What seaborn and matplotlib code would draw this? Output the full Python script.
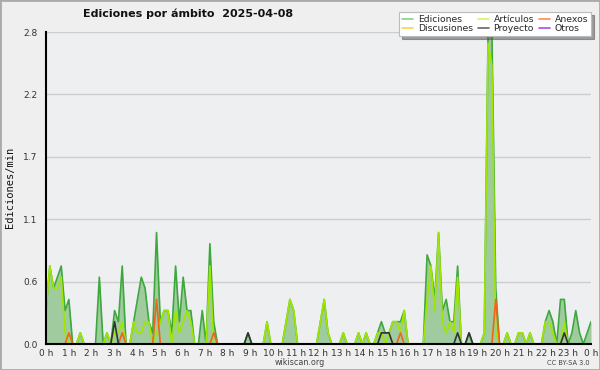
import numpy as np
import pandas as pd
import matplotlib
matplotlib.use("Agg")
import matplotlib.pyplot as plt
import seaborn as sns
from matplotlib.lines import Line2D
from matplotlib.patches import Rectangle

# ---------------- data (edits per minute, 10-minute bins, 24 rows of 6) -------------
ediciones = [
    0.3, 0.7, 0.5, 0.6, 0.7, 0.3,   # 0 h
    0.4, 0.0, 0.0, 0.1, 0.0, 0.0,   # 1 h
    0.0, 0.0, 0.6, 0.0, 0.1, 0.0,   # 2 h
    0.3, 0.2, 0.7, 0.0, 0.0, 0.2,   # 3 h
    0.4, 0.6, 0.5, 0.2, 0.1, 1.0,   # 4 h
    0.2, 0.3, 0.3, 0.1, 0.7, 0.2,   # 5 h
    0.6, 0.3, 0.3, 0.0, 0.0, 0.3,   # 6 h
    0.0, 0.9, 0.2, 0.0, 0.0, 0.0,   # 7 h
    0.0, 0.0, 0.0, 0.0, 0.0, 0.1,   # 8 h
    0.0, 0.0, 0.0, 0.0, 0.2, 0.0,   # 9 h
    0.0, 0.0, 0.0, 0.2, 0.4, 0.3,   # 10 h
    0.0, 0.0, 0.0, 0.0, 0.0, 0.0,   # 11 h
    0.2, 0.4, 0.1, 0.0, 0.0, 0.0,   # 12 h
    0.1, 0.0, 0.0, 0.0, 0.1, 0.0,   # 13 h
    0.1, 0.0, 0.0, 0.1, 0.2, 0.1,   # 14 h
    0.1, 0.2, 0.2, 0.2, 0.3, 0.0,   # 15 h
    0.0, 0.0, 0.0, 0.0, 0.8, 0.7,   # 16 h
    0.4, 1.0, 0.3, 0.4, 0.2, 0.2,   # 17 h
    0.7, 0.0, 0.0, 0.1, 0.0, 0.0,   # 18 h
    0.0, 0.1, 2.8, 2.8, 0.5, 0.0,   # 19 h
    0.0, 0.1, 0.0, 0.0, 0.1, 0.1,   # 20 h
    0.0, 0.1, 0.0, 0.0, 0.0, 0.2,   # 21 h
    0.3, 0.2, 0.0, 0.4, 0.4, 0.0,   # 22 h
    0.1, 0.3, 0.1, 0.0, 0.1, 0.2,   # 23 h
]
articulos = [
    0.3, 0.7, 0.5, 0.5, 0.6, 0.1,
    0.0, 0.0, 0.0, 0.1, 0.0, 0.0,
    0.0, 0.0, 0.0, 0.0, 0.1, 0.0,
    0.1, 0.1, 0.2, 0.0, 0.0, 0.2,
    0.1, 0.1, 0.2, 0.2, 0.0, 0.1,
    0.2, 0.3, 0.3, 0.0, 0.3, 0.1,
    0.2, 0.3, 0.2, 0.0, 0.0, 0.0,
    0.0, 0.7, 0.0, 0.0, 0.0, 0.0,
    0.0, 0.0, 0.0, 0.0, 0.0, 0.0,
    0.0, 0.0, 0.0, 0.0, 0.2, 0.0,
    0.0, 0.0, 0.0, 0.2, 0.4, 0.3,
    0.0, 0.0, 0.0, 0.0, 0.0, 0.0,
    0.2, 0.4, 0.1, 0.0, 0.0, 0.0,
    0.1, 0.0, 0.0, 0.0, 0.1, 0.0,
    0.1, 0.0, 0.0, 0.1, 0.1, 0.0,
    0.1, 0.2, 0.2, 0.1, 0.3, 0.0,
    0.0, 0.0, 0.0, 0.0, 0.4, 0.7,
    0.3, 1.0, 0.2, 0.1, 0.2, 0.1,
    0.6, 0.0, 0.0, 0.0, 0.0, 0.0,
    0.0, 0.1, 2.7, 2.5, 0.1, 0.0,
    0.0, 0.1, 0.0, 0.0, 0.1, 0.1,
    0.0, 0.1, 0.0, 0.0, 0.0, 0.2,
    0.2, 0.1, 0.0, 0.0, 0.2, 0.0,
    0.0, 0.0, 0.0, 0.0, 0.0, 0.0,
]
anexos = [
    0.0, 0.0, 0.0, 0.0, 0.0, 0.0,
    0.1, 0.0, 0.0, 0.0, 0.0, 0.0,
    0.0, 0.0, 0.0, 0.0, 0.0, 0.0,
    0.0, 0.0, 0.1, 0.0, 0.0, 0.0,
    0.0, 0.0, 0.0, 0.0, 0.0, 0.4,
    0.0, 0.0, 0.0, 0.0, 0.0, 0.0,
    0.0, 0.0, 0.0, 0.0, 0.0, 0.0,
    0.0, 0.0, 0.1, 0.0, 0.0, 0.0,
    0.0, 0.0, 0.0, 0.0, 0.0, 0.0,
    0.0, 0.0, 0.0, 0.0, 0.0, 0.0,
    0.0, 0.0, 0.0, 0.0, 0.0, 0.0,
    0.0, 0.0, 0.0, 0.0, 0.0, 0.0,
    0.0, 0.0, 0.0, 0.0, 0.0, 0.0,
    0.0, 0.0, 0.0, 0.0, 0.0, 0.0,
    0.0, 0.0, 0.0, 0.0, 0.0, 0.0,
    0.0, 0.0, 0.0, 0.1, 0.0, 0.0,
    0.0, 0.0, 0.0, 0.0, 0.0, 0.0,
    0.0, 0.0, 0.0, 0.0, 0.0, 0.0,
    0.0, 0.0, 0.0, 0.0, 0.0, 0.0,
    0.0, 0.0, 0.0, 0.0, 0.4, 0.0,
    0.0, 0.0, 0.0, 0.0, 0.0, 0.0,
    0.0, 0.0, 0.0, 0.0, 0.0, 0.0,
    0.0, 0.0, 0.0, 0.0, 0.0, 0.0,
    0.0, 0.0, 0.0, 0.0, 0.0, 0.0,
]
proyecto = [
    0.0, 0.0, 0.0, 0.0, 0.0, 0.0,
    0.0, 0.0, 0.0, 0.0, 0.0, 0.0,
    0.0, 0.0, 0.0, 0.0, 0.0, 0.0,
    0.2, 0.0, 0.0, 0.0, 0.0, 0.0,
    0.0, 0.0, 0.0, 0.0, 0.0, 0.0,
    0.0, 0.0, 0.0, 0.0, 0.0, 0.0,
    0.0, 0.0, 0.0, 0.0, 0.0, 0.0,
    0.0, 0.0, 0.0, 0.0, 0.0, 0.0,
    0.0, 0.0, 0.0, 0.0, 0.0, 0.1,
    0.0, 0.0, 0.0, 0.0, 0.0, 0.0,
    0.0, 0.0, 0.0, 0.0, 0.0, 0.0,
    0.0, 0.0, 0.0, 0.0, 0.0, 0.0,
    0.0, 0.0, 0.0, 0.0, 0.0, 0.0,
    0.0, 0.0, 0.0, 0.0, 0.0, 0.0,
    0.0, 0.0, 0.0, 0.0, 0.1, 0.1,
    0.1, 0.0, 0.0, 0.0, 0.0, 0.0,
    0.0, 0.0, 0.0, 0.0, 0.0, 0.0,
    0.0, 0.0, 0.0, 0.0, 0.0, 0.0,
    0.1, 0.0, 0.0, 0.1, 0.0, 0.0,
    0.0, 0.0, 0.0, 0.0, 0.0, 0.0,
    0.0, 0.0, 0.0, 0.0, 0.0, 0.0,
    0.0, 0.0, 0.0, 0.0, 0.0, 0.0,
    0.0, 0.0, 0.0, 0.0, 0.1, 0.0,
    0.0, 0.0, 0.0, 0.0, 0.0, 0.0,
]
discusiones = [0.0] * len(ediciones)   # no edits visible in this namespace
otros = [0.0] * len(ediciones)         # no edits visible in this namespace

series_names = ["Ediciones", "Discusiones", "Artículos", "Proyecto", "Anexos", "Otros"]
line_colors = {"Ediciones": "#3DA83D", "Artículos": "#A0E600", "Discusiones": "#FFC933",
               "Otros": "#9A44E0", "Anexos": "#F26418", "Proyecto": "#333333"}
legend_colors = {"Ediciones": "#8ACF8A", "Discusiones": "#FFD24D", "Artículos": "#CFF56A",
                 "Proyecto": "#666666", "Anexos": "#FF8C50", "Otros": "#A050F0"}
draw_order = ["Ediciones", "Discusiones", "Otros", "Artículos", "Anexos", "Proyecto"]

title = "Ediciones por ámbito  2025-04-08"
ylabel = "Ediciones/min"
ymax = 2.8

n = len(ediciones)
hora = np.arange(n) * 24 / (n - 1)
values = {"Ediciones": ediciones, "Artículos": articulos, "Anexos": anexos,
          "Discusiones": discusiones, "Proyecto": proyecto, "Otros": otros}
df = pd.concat([pd.DataFrame({"hora": hora, "valor": values[k], "ambito": k}) for k in draw_order],
               ignore_index=True)

# ---------------- figure ----------------
sns.set_theme(style="white")
plt.rcParams["font.family"] = ["DejaVu Sans"]

fig = plt.figure(figsize=(6.0, 3.7), dpi=100)
fig.patch.set_facecolor("#EFEFEF")
ax = fig.add_axes([46 / 600, 1 - 344 / 370, 545 / 600, 312 / 370])
ax.set_facecolor("#EEEFF1")

ax.fill_between(hora, ediciones, 0, color="#9FCB9F", lw=0, zorder=1)
sns.lineplot(data=df, x="hora", y="valor", hue="ambito", hue_order=draw_order,
             palette=line_colors, estimator=None, legend=False, lw=1.2, ax=ax, zorder=2)

ax.set_xlim(0, 24)
ax.set_ylim(0, ymax)
yt = np.arange(6) * ymax / 5
ax.set_yticks(yt)
ax.set_yticklabels([f"{v:.1f}" for v in yt])
ax.set_yticks(np.arange(0, ymax + 1e-6, ymax / 20), minor=True)
ax.set_xticks(np.arange(25))
ax.set_xticklabels([f"{h % 24} h" for h in range(25)])
ax.set_xticks(np.arange(0, 24 + 1e-6, 1 / 6), minor=True)

ax.yaxis.grid(True, color="#CDCDCD", lw=1)
ax.xaxis.grid(False)
for s in ["top", "right"]:
    ax.spines[s].set_visible(False)
for s in ["left", "bottom"]:
    ax.spines[s].set_color("black")
    ax.spines[s].set_linewidth(1.5)
    ax.spines[s].set_zorder(6)
ax.tick_params(axis="y", which="major", direction="out", length=4.5, width=1,
               color="black", labelsize=6.5, labelcolor="#333333", pad=1.5)
ax.tick_params(axis="y", which="minor", direction="out", length=2.5, width=1, color="black")
ax.tick_params(axis="x", which="major", direction="out", length=3, width=1,
               color="black", labelsize=6.5, labelcolor="#333333", pad=0.5)
ax.tick_params(axis="x", which="minor", direction="out", length=2.5, width=1, color="black")
ax.set_xlabel("")
ax.set_ylabel("")

fig.text(10 / 600, 1 - 187 / 370, ylabel, rotation=90, ha="center", va="center",
         fontsize=7.5, family=["DejaVu Sans Mono"], color="#111111")
fig.text(188 / 600, 1 - 14 / 370, title, ha="center", va="center",
         fontsize=8.0, fontweight="bold", color="#111111")
fig.text(300 / 600, 1 - 362.5 / 370, "wikiscan.org", ha="center", va="center",
         fontsize=5.8, color="#444444")
fig.text(590 / 600, 1 - 363 / 370, "CC BY-SA 3.0", ha="right", va="center",
         fontsize=4.8, color="#444444")

handles = [Line2D([], [], color=legend_colors[k], lw=1.2) for k in series_names]
leg = fig.legend(handles, series_names, ncol=3, loc="upper right",
                 bbox_to_anchor=(591 / 600, 1 - 12 / 370), fontsize=6.7, frameon=True,
                 fancybox=False, shadow=True, handlelength=1.2, handletextpad=0.5,
                 columnspacing=0.5, borderpad=0.3, labelspacing=0.05, borderaxespad=0)
leg.get_frame().set_edgecolor("#BBBBBB")
leg.get_frame().set_linewidth(0.8)
leg.set_zorder(10)

fig.add_artist(Rectangle((0, 0), 1, 1, transform=fig.transFigure, fill=False,
                         edgecolor="#AAAAAA", lw=2))

fig.savefig("out.png", dpi=100, facecolor=fig.get_facecolor())
